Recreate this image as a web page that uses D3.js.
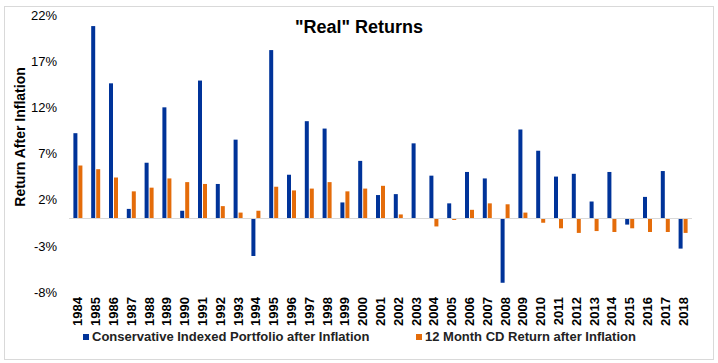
<!DOCTYPE html>
<html>
<head>
<meta charset="utf-8">
<script src="https://cdn.jsdelivr.net/npm/d3@7"></script>
<style>
  body { margin: 0; background: #fff; }
  text { font-family: "Liberation Sans", Arial, sans-serif; }
</style>
</head>
<body>
<svg id="chart" width="718" height="363"></svg>
<script>
const years = ["1984","1985","1986","1987","1988","1989","1990","1991","1992","1993","1994","1995","1996","1997","1998","1999","2000","2001","2002","2003","2004","2005","2006","2007","2008","2009","2010","2011","2012","2013","2014","2015","2016","2017","2018"];
const portfolio = [9.2, 20.8, 14.6, 1.0, 6.0, 12.0, 0.8, 14.9, 3.7, 8.5, -4.1, 18.2, 4.7, 10.5, 9.7, 1.7, 6.2, 2.5, 2.6, 8.1, 4.6, 1.6, 5.0, 4.3, -7.0, 9.6, 7.3, 4.5, 4.8, 1.8, 5.0, -0.7, 2.3, 5.1, -3.3];
const cdReturn = [5.7, 5.3, 4.4, 2.9, 3.3, 4.3, 3.9, 3.7, 1.3, 0.6, 0.8, 3.4, 3.0, 3.2, 3.9, 2.9, 3.2, 3.5, 0.4, 0.0, -0.9, -0.2, 0.9, 1.6, 1.5, 0.6, -0.5, -1.1, -1.6, -1.4, -1.5, -1.1, -1.5, -1.5, -1.6];
const yTicks = [-8, -3, 2, 7, 12, 17, 22];
const seriesNames = ["Conservative Indexed Portfolio after Inflation", "12 Month CD Return after Inflation"];
const colors = ["#003399", "#E46C0A"];

const svg = d3.select("#chart"),
    margin = {top: 15, right: 26, bottom: 72, left: 69},
    width = +svg.attr("width") - margin.left - margin.right,
    height = +svg.attr("height") - margin.top - margin.bottom;

// outer frame
svg.append("rect")
    .attr("x", 4.5).attr("y", 6.5)
    .attr("width", 709).attr("height", 353)
    .attr("fill", "none").attr("stroke", "#d9d9d9");

const x = d3.scaleBand().domain(years).range([0, width]);
const y = d3.scaleLinear().domain([-8, 22]).range([height + 1, 0]);

const g = svg.append("g").attr("transform", "translate(" + margin.left + "," + margin.top + ")");

// y axis labels
const yAxis = g.append("g")
    .call(d3.axisLeft(y).tickValues(yTicks).tickFormat(d => d + "%").tickSize(0).tickPadding(12));
yAxis.select(".domain").remove();
yAxis.selectAll("text")
    .style("font-size", "13px")
    .style("fill", "#000");

// bars
const barW = 4;
const data = years.map((yr, i) => ({year: yr, vals: [portfolio[i], cdReturn[i]]}));
const groups = g.selectAll(".yr").data(data).enter().append("g")
    .attr("transform", d => "translate(" + x(d.year) + ",0)");
groups.selectAll("rect")
    .data(d => d.vals.map((v, k) => ({v: v, k: k})))
    .enter().append("rect")
    .attr("x", d => x.bandwidth() / 2 - barW - 0.5 + d.k * (barW + 1))
    .attr("width", barW)
    .attr("y", d => y(Math.max(0, d.v)))
    .attr("height", d => Math.abs(y(d.v) - y(0)))
    .attr("fill", d => colors[d.k]);

// zero line
g.append("line")
    .attr("x1", 0).attr("x2", width)
    .attr("y1", Math.round(y(0)) + 0.5).attr("y2", Math.round(y(0)) + 0.5)
    .attr("stroke", "#d9d9d9");

// x axis labels, rotated
g.append("g")
    .attr("transform", "translate(0," + (height + 6) + ")")
    .selectAll("text")
    .data(years).enter().append("text")
    .attr("transform", d => "translate(" + (x(d) + x.bandwidth() / 2 + 4.5) + ",0) rotate(-90)")
    .attr("text-anchor", "end")
    .style("font-size", "13px")
    .style("font-weight", "bold")
    .text(d => d);

// title
svg.append("text")
    .attr("x", 359).attr("y", 33)
    .attr("text-anchor", "middle")
    .style("font-size", "18px")
    .style("font-weight", "bold")
    .text("\"Real\" Returns");

// y title
svg.append("text")
    .attr("transform", "translate(25,137) rotate(-90)")
    .attr("text-anchor", "middle")
    .style("font-size", "14px")
    .style("font-weight", "bold")
    .text("Return After Inflation");

// legend
const legendX = [83, 416];
seriesNames.forEach((name, i) => {
    svg.append("rect")
        .attr("x", legendX[i]).attr("y", 334)
        .attr("width", 6).attr("height", 6)
        .attr("fill", colors[i]);
    svg.append("text")
        .attr("x", legendX[i] + 9).attr("y", 341)
        .style("font-size", "13px")
        .style("font-weight", "bold")
        .style("fill", "#222")
        .text(name);
});
</script>
</body>
</html>
